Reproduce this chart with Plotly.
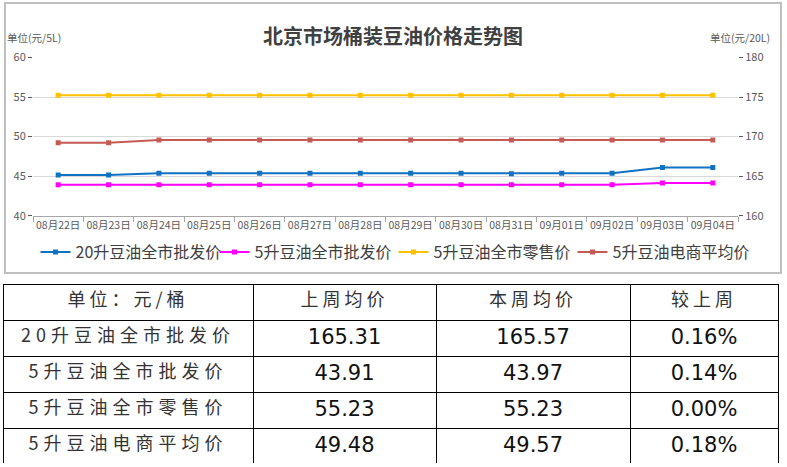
import plotly.graph_objects as go

dates = ["08月22日", "08月23日", "08月24日", "08月25日", "08月26日", "08月27日", "08月28日",
         "08月29日", "08月30日", "08月31日", "09月01日", "09月02日", "09月03日", "09月04日"]
wholesale_20L = [165.15, 165.15, 165.37, 165.37, 165.37, 165.37, 165.37,
                 165.37, 165.37, 165.30, 165.37, 165.37, 166.10, 166.10]
wholesale_5L = [43.91, 43.91, 43.91, 43.91, 43.91, 43.91, 43.91,
                43.91, 43.91, 43.91, 43.91, 43.91, 44.12, 44.12]
retail_5L = [55.23, 55.23, 55.23, 55.23, 55.23, 55.23, 55.23,
             55.23, 55.23, 55.23, 55.23, 55.23, 55.23, 55.23]
ecom_5L = [49.23, 49.23, 49.58, 49.58, 49.58, 49.58, 49.58,
           49.57, 49.57, 49.57, 49.57, 49.57, 49.57, 49.57]

series_names = ["20升豆油全市批发价", "5升豆油全市批发价", "5升豆油全市零售价", "5升豆油电商平均价"]
series_colors = ["#1172C4", "#FF00FF", "#FFC000", "#C55A55"]

table_header = ["单位：元/桶", "上周均价", "本周均价", "较上周"]
table_items = ["20升豆油全市批发价", "5升豆油全市批发价", "5升豆油全市零售价", "5升豆油电商平均价"]
last_week = ["165.31", "43.91", "55.23", "49.48"]
this_week = ["165.57", "43.97", "55.23", "49.57"]
change = ["0.16%", "0.14%", "0.00%", "0.18%"]

W, H = 787, 467
FONT = "Noto Sans CJK SC"

fig = go.Figure()
series = [wholesale_20L, wholesale_5L, retail_5L, ecom_5L]
for i, (name, vals, col) in enumerate(zip(series_names, series, series_colors)):
    fig.add_trace(go.Scatter(
        x=dates, y=vals, name=name, mode="lines+markers",
        line=dict(color=col, width=2),
        marker=dict(symbol="square", size=5, color=col),
        yaxis="y2" if i == 0 else "y",
    ))

fig.add_trace(go.Table(
    domain=dict(x=[3 / W, 778 / W], y=[1 - 464 / H, 1 - 284 / H]),
    columnwidth=[250, 183, 194, 148],
    header=dict(
        values=table_header,
        height=36,
        align="center",
        line=dict(color="black", width=1),
        fill=dict(color="white"),
        font=dict(family=FONT, size=18, color="#333333"),
    ),
    cells=dict(
        values=[table_items, last_week, this_week, change],
        height=36,
        align="center",
        line=dict(color="black", width=1),
        fill=dict(color="white"),
        font=dict(family=["Noto Sans CJK SC", "DejaVu Sans", "DejaVu Sans", "DejaVu Sans"],
                  size=[18, 21, 21, 21], color=["#333333", "#111111", "#111111", "#111111"]),
    ),
))

fig.update_layout(
    width=W, height=H,
    margin=dict(l=0, r=0, t=0, b=0, autoexpand=False),
    paper_bgcolor="white", plot_bgcolor="white",
    font=dict(family=FONT, color="#595959"),
    showlegend=True,
    legend=dict(orientation="h", x=0.5, xanchor="center", y=1 - 235 / H, yanchor="top",
                font=dict(size=16, color="#404040", family=FONT),
                entrywidth=134, entrywidthmode="pixels",
                itemwidth=30, tracegroupgap=0, bgcolor="rgba(0,0,0,0)"),
    xaxis=dict(
        type="category", domain=[33 / W, 738 / W], anchor="y",
        tickson="boundaries", ticks="outside", ticklen=5, tickcolor="#A6A6A6",
        showline=True, linecolor="#A6A6A6", linewidth=1, tickangle=0,
        showgrid=False, tickfont=dict(size=10.5, color="#595959"),
        range=[-0.5, len(dates) - 0.5],
    ),
    yaxis=dict(
        domain=[1 - 215.7 / H, 1 - 57.5 / H], anchor="x",
        range=[40, 60], dtick=5, tick0=40,
        ticks="outside", ticklen=4, tickcolor="#595959",
        showgrid=True, gridcolor="#D9D9D9", gridwidth=1,
        zeroline=False, showline=False,
        tickfont=dict(size=11, color="#595959"),
    ),
    yaxis2=dict(
        overlaying="y", side="right", anchor="x",
        range=[160, 180], dtick=5, tick0=160,
        ticks="outside", ticklen=4, tickcolor="#595959",
        showgrid=False, zeroline=False, showline=False,
        tickfont=dict(size=11, color="#595959"),
    ),
    shapes=[dict(type="rect", xref="paper", yref="paper",
                 x0=5 / W, x1=781 / W, y0=1 - 273 / H, y1=1 - 3 / H,
                 line=dict(color="#BFBFBF", width=2), fillcolor="rgba(0,0,0,0)", layer="below")],
    annotations=[
        dict(text="<b>北京市场桶装豆油价格走势图</b>", xref="paper", yref="paper",
             x=393 / W, y=1 - 35 / H, xanchor="center", yanchor="middle",
             showarrow=False, font=dict(size=20, color="#404040", family=FONT)),
        dict(text="单位(元/5L)", xref="paper", yref="paper",
             x=5 / W, y=1 - 38 / H, xanchor="left", yanchor="middle",
             showarrow=False, font=dict(size=10.5, color="#595959", family=FONT)),
        dict(text="单位(元/20L)", xref="paper", yref="paper",
             x=772 / W, y=1 - 38 / H, xanchor="right", yanchor="middle",
             showarrow=False, font=dict(size=10.5, color="#595959", family=FONT)),
    ],
)

post = """
document.body.style.margin = '0';
document.body.style.overflow = 'hidden';
var gd = document.getElementById('{plot_id}');
function spaceCJK() {
  gd.querySelectorAll('.table .cell-text').forEach(function (t) {
    if (/[\\u4e00-\\u9fff]/.test(t.textContent)) {
      t.style.letterSpacing = /[0-9]/.test(t.textContent) || t.textContent.length > 6 ? '5px' : '4px';
    }
  });
}
spaceCJK();
if (gd.on) { gd.on('plotly_afterplot', spaceCJK); }
"""

fig.write_html("out.html", post_script=post, config={"displayModeBar": False})
